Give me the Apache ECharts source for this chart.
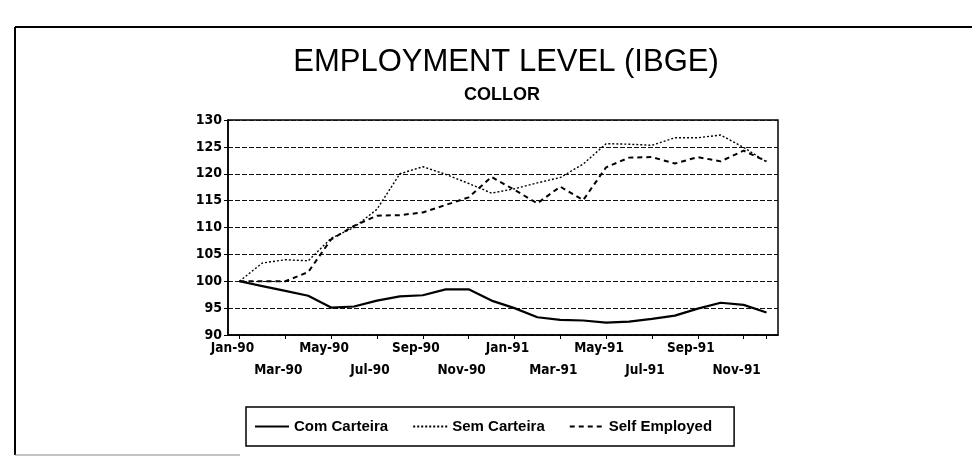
<!DOCTYPE html>
<html>
<head>
<meta charset="utf-8">
<script src="https://cdn.jsdelivr.net/npm/echarts@6/dist/echarts.min.js"></script>
<style>
html,body{margin:0;padding:0;background:#fff;}
#chart{width:972px;height:459px;}
</style>
</head>
<body>
<div id="chart"></div>
<script>
// ---- data ----
var months = ['Jan-90','Feb-90','Mar-90','Apr-90','May-90','Jun-90','Jul-90','Aug-90','Sep-90','Oct-90','Nov-90','Dec-90',
              'Jan-91','Feb-91','Mar-91','Apr-91','May-91','Jun-91','Jul-91','Aug-91','Sep-91','Oct-91','Nov-91','Dec-91'];
var comCarteira = [100, 99.1, 98.2, 97.3, 95.1, 95.3, 96.4, 97.2, 97.4, 98.5, 98.5, 96.4,
                   95.0, 93.3, 92.8, 92.7, 92.3, 92.5, 93.0, 93.6, 94.9, 96.0, 95.6, 94.2];
var semCarteira = [100, 103.4, 104.0, 103.8, 108.0, 110.0, 113.4, 120.0, 121.3, 119.9, 118.2, 116.4,
                   117.2, 118.3, 119.3, 121.8, 125.6, 125.5, 125.3, 126.7, 126.7, 127.2, 124.9, 122.2];
var selfEmployed = [100, 100, 100, 101.7, 107.8, 110.3, 112.2, 112.3, 112.8, 114.2, 115.6, 119.4,
                    117.0, 114.5, 117.6, 115.1, 121.2, 123.0, 123.1, 121.9, 123.1, 122.3, 124.3, 122.3];
var seriesNames = ['Com Carteira', 'Sem Carteira', 'Self Employed'];
var yTicks = {min: 90, max: 130, step: 5};

var narrow = '"DejaVu Sans Condensed", "Liberation Sans Narrow", "Liberation Sans", sans-serif';
var arial = '"Liberation Sans", Arial, sans-serif';
var chart = echarts.init(document.getElementById('chart'), null, {renderer: 'canvas'});
chart.setOption({
  backgroundColor: '#fff',
  animation: false,
  title: [
    {text: 'EMPLOYMENT LEVEL (IBGE)', left: 501, top: 42, textAlign: 'center',
     textStyle: {fontFamily: arial, fontSize: 31, fontWeight: 'normal', color: '#000'}},
    {text: 'COLLOR', left: 497, top: 81, textAlign: 'center',
     textStyle: {fontFamily: arial, fontSize: 18, fontWeight: 'bold', color: '#000'}}
  ],
  graphic: [
    {type: 'line', shape: {x1: 15, y1: 27, x2: 972, y2: 27}, style: {stroke: '#000', lineWidth: 2}},
    {type: 'line', shape: {x1: 15, y1: 27, x2: 15, y2: 455}, style: {stroke: '#000', lineWidth: 2}},
    {type: 'line', shape: {x1: 15, y1: 455, x2: 240, y2: 455}, style: {stroke: '#888', lineWidth: 1}}
  ],
  legend: {
    left: 246, top: 407,
    data: seriesNames,
    orient: 'horizontal',
    itemWidth: 34, itemHeight: 14, itemGap: 24,
    padding: [12, 22, 12, 8],
    borderColor: '#000', borderWidth: 1.5,
    itemStyle: {opacity: 0},
    textStyle: {fontFamily: arial, fontSize: 15, fontWeight: 'bold', color: '#000'}
  },
  grid: {left: 228, top: 120, width: 550, height: 215, show: true, borderColor: '#000', borderWidth: 1.5, backgroundColor: 'transparent'},
  xAxis: {
    type: 'category', data: months, boundaryGap: true,
    axisLine: {lineStyle: {color: '#000', width: 1.5}},
    axisTick: {show: true, alignWithLabel: true, interval: 1, length: 4, lineStyle: {color: '#000'}},
    axisLabel: {
      interval: 0, margin: 2, lineHeight: 22, color: '#000',
      showMinLabel: true, showMaxLabel: true, hideOverlap: false,
      fontFamily: narrow, fontSize: 13.5, fontWeight: 'bold',
      padding: [0, 14, 0, 0],
      formatter: function (v, i) { return (i % 2 === 1) ? '' : ((i % 4 === 0) ? v : '\n' + v); }
    },
    splitLine: {show: false}
  },
  yAxis: {
    type: 'value', min: yTicks.min, max: yTicks.max, interval: yTicks.step,
    axisLine: {show: true, lineStyle: {color: '#000', width: 1.5}},
    axisTick: {show: true, length: 4, lineStyle: {color: '#000'}},
    axisLabel: {color: '#000', fontFamily: narrow, fontSize: 14, fontWeight: 'bold', margin: 6},
    splitLine: {show: true, lineStyle: {color: '#111', width: 1.2, type: [5, 2]}}
  },
  series: [
    {name: seriesNames[0], type: 'line', data: comCarteira, symbol: 'none', showSymbol: false,
     lineStyle: {color: '#000', width: 2.2, type: 'solid'}, itemStyle: {color: '#000'}},
    {name: seriesNames[1], type: 'line', data: semCarteira, symbol: 'none', showSymbol: false,
     lineStyle: {color: '#000', width: 1.4, type: [2, 2]}, itemStyle: {color: '#000'}},
    {name: seriesNames[2], type: 'line', data: selfEmployed, symbol: 'none', showSymbol: false,
     lineStyle: {color: '#000', width: 2, type: [5, 4]}, itemStyle: {color: '#000'}}
  ]
});
</script>
</body>
</html>
